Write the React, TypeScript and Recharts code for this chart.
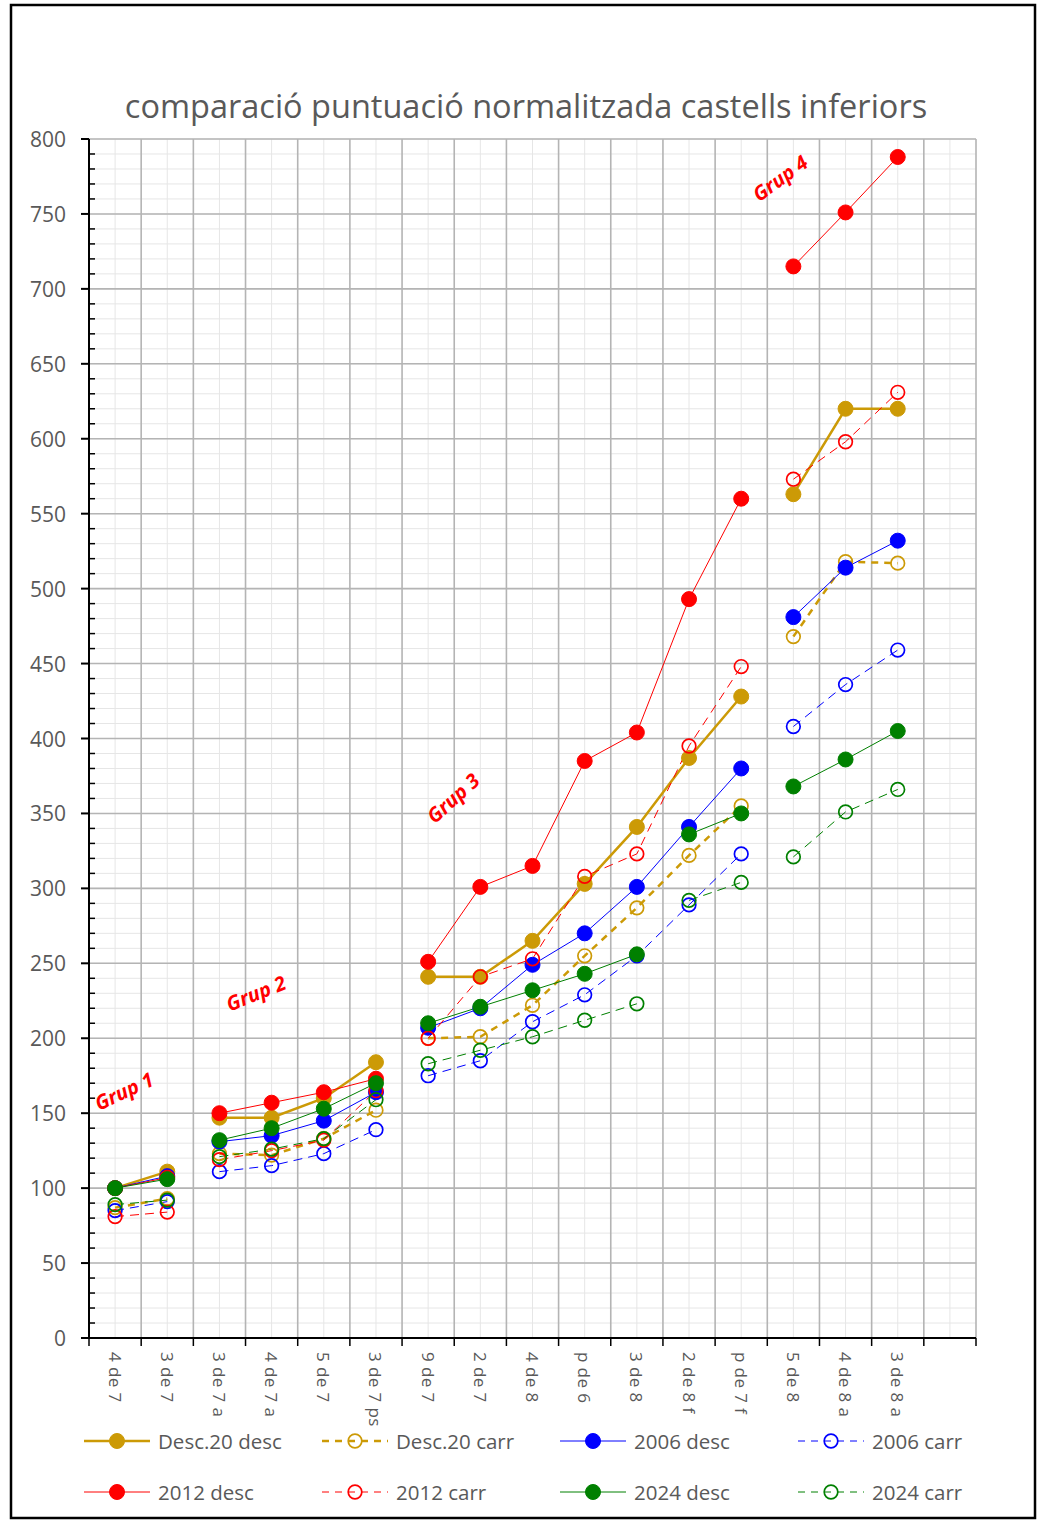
import React from 'react';
import { LineChart, Line, XAxis, YAxis, CartesianGrid } from 'recharts';

const categories = [
  '4 de 7', '3 de 7', '3 de 7 a', '4 de 7 a', '5 de 7', '3 de 7 ps', '9 de 7', '2 de 7',
  '4 de 8', 'p de 6', '3 de 8', '2 de 8 f', 'p de 7 f', '5 de 8', '4 de 8 a', '3 de 8 a', '',
];

const desc20Desc = [100, 111, 147, 147, 160, 184, 241, 241, 265, 303, 341, 387, 428, 563, 620, 620];
const desc20Carr = [87, 93, 123, 122, 133, 152, 200, 201, 222, 255, 287, 322, 355, 468, 518, 517];
const desc2006 = [100, 108, 131, 135, 145, 164, 207, 220, 249, 270, 301, 341, 380, 481, 514, 532];
const carr2006 = [85, 91, 111, 115, 123, 139, 175, 185, 211, 229, 255, 289, 323, 408, 436, 459];
const desc2012 = [100, 107, 150, 157, 164, 173, 251, 301, 315, 385, 404, 493, 560, 715, 751, 788];
const carr2012 = [81, 84, 119, 125, 132, 165, 200, 241, 253, 308, 323, 395, 448, 573, 598, 631];
const desc2024 = [100, 106, 132, 140, 153, 170, 210, 221, 232, 243, 256, 336, 350, 368, 386, 405];
const carr2024 = [89, 92, 121, 126, 133, 159, 183, 192, 201, 212, 223, 292, 304, 321, 351, 366];

const yLabels = [0, 50, 100, 150, 200, 250, 300, 350, 400, 450, 500, 550, 600, 650, 700, 750, 800];

// index ranges that are joined by a line
const groups = [[0, 1], [2, 5], [6, 12], [13, 15]];
const groups2024 = [[0, 1], [2, 5], [6, 10], [11, 12], [13, 15]];

const GOLD = '#CC9A06';
const BLUE = '#0000FF';
const RED = '#FF0000';
const GREEN = '#008000';
const GREY_TEXT = '#595959';
const FONT = '"Open Sans", "Noto Sans", sans-serif';

interface Series {
  key: string,
  name: string,
  values: number[],
  color: string,
  width: number,
  dashed: boolean,
  filled: boolean,
  segments: number[][],
}

const series: Series[] = [
  { key: 'd20d', name: 'Desc.20 desc', values: desc20Desc, color: GOLD, width: 2.5, dashed: false, filled: true, segments: groups },
  { key: 'd20c', name: 'Desc.20 carr', values: desc20Carr, color: GOLD, width: 2.5, dashed: true, filled: false, segments: groups },
  { key: 'd06', name: '2006 desc', values: desc2006, color: BLUE, width: 1, dashed: false, filled: true, segments: groups },
  { key: 'c06', name: '2006 carr', values: carr2006, color: BLUE, width: 1, dashed: true, filled: false, segments: groups },
  { key: 'd12', name: '2012 desc', values: desc2012, color: RED, width: 1, dashed: false, filled: true, segments: groups },
  { key: 'c12', name: '2012 carr', values: carr2012, color: RED, width: 1, dashed: true, filled: false, segments: groups },
  { key: 'd24', name: '2024 desc', values: desc2024, color: GREEN, width: 1, dashed: false, filled: true, segments: groups2024 },
  { key: 'c24', name: '2024 carr', values: carr2024, color: GREEN, width: 1, dashed: true, filled: false, segments: groups2024 },
];

const data = categories.map((cat, i) => {
  const row: any = { cat };
  series.forEach((s) => {
    s.segments.forEach(([a, b], g) => {
      row[`${s.key}_${g}`] = i >= a && i <= b ? s.values[i] : null;
    });
  });
  return row;
});

const W = 1038;
const H = 1524;
const PLOT_L = 89;
const PLOT_R = 976;
const PLOT_T = 139;
const PLOT_B = 1338;
const BAND = (PLOT_R - PLOT_L) / categories.length;

const minorY: number[] = [];
for (let v = 0; v <= 800; v += 10) minorY.push(v);

const yPix = (v: number, off: any) => {
  const top = off?.top ?? PLOT_T;
  const h = off?.height ?? PLOT_B - PLOT_T;
  return top + h * (1 - v / 800);
};

const majorVertical = ({ offset }: any) => {
  const left = offset?.left ?? PLOT_L;
  const w = offset?.width ?? PLOT_R - PLOT_L;
  return categories.map((_, i) => left + (w * (i + 1)) / categories.length);
};
const minorVertical = ({ offset }: any) => {
  const left = offset?.left ?? PLOT_L;
  const w = offset?.width ?? PLOT_R - PLOT_L;
  return categories.map((_, i) => left + (w * (i + 0.5)) / categories.length);
};
const majorHorizontal = ({ offset }: any) => yLabels.map((v) => yPix(v, offset));
const minorHorizontal = ({ offset }: any) => minorY.map((v) => yPix(v, offset));

const YTick = (props: any) => {
  const { y, payload } = props;
  const major = payload.value % 50 === 0;
  return (
    <g>
      {major
        ? <line x1={PLOT_L - 8} x2={PLOT_L} y1={y} y2={y} stroke="#000" strokeWidth={2} />
        : <line x1={PLOT_L} x2={PLOT_L + 6} y1={y} y2={y} stroke="#000" strokeWidth={1.5} />}
      {major && (
        <text x={66} y={y} textAnchor="end" dominantBaseline="central"
          fontFamily={FONT} fontSize={21} fill={GREY_TEXT}>{payload.value}</text>
      )}
    </g>
  );
};

const XTick = (props: any) => {
  const { x, payload, index } = props;
  return (
    <g>
      <line x1={x - BAND / 2} x2={x - BAND / 2} y1={PLOT_B} y2={PLOT_B + 8} stroke="#000" strokeWidth={1.5} />
      {index === categories.length - 1 && (
        <line x1={x + BAND / 2} x2={x + BAND / 2} y1={PLOT_B} y2={PLOT_B + 8} stroke="#000" strokeWidth={1.5} />
      )}
      <text x={x} y={PLOT_B + 14} transform={`rotate(90 ${x} ${PLOT_B + 14})`}
        textAnchor="start" dominantBaseline="central" fontFamily={FONT} fontSize={17}
        letterSpacing={0.4} fill={GREY_TEXT}>
        {payload.value}
      </text>
    </g>
  );
};

const dotFor = (s: Series) => s.filled
  ? { r: 7.5, fill: s.color, stroke: s.color, strokeWidth: 1, strokeDasharray: 'none' }
  : { r: 6.8, fill: 'none', stroke: s.color, strokeWidth: 1.7, strokeDasharray: 'none' };

const groupLabels = [
  { text: 'Grup 1', x: 124, y: 1091, angle: -25 },
  { text: 'Grup 2', x: 256, y: 993, angle: -22 },
  { text: 'Grup 3', x: 453, y: 798, angle: -42 },
  { text: 'Grup 4', x: 780, y: 178, angle: -36 },
];

const legendCols = [84, 322, 560, 798];
const legendRows = [1441, 1492];

function App() {
  return (
    <div style={{ position: 'absolute', left: 0, top: 0, width: W, height: H, background: '#fff' }}>
      <svg width={W} height={H} style={{ position: 'absolute', left: 0, top: 0 }}>
        <rect x={11} y={5} width={1024} height={1513} fill="#fff" stroke="#000" strokeWidth={2.5} />
        <text x={526} y={105} textAnchor="middle" dominantBaseline="central"
          fontFamily={FONT} fontSize={32.5} fill={GREY_TEXT}>
          comparació puntuació normalitzada castells inferiors
        </text>
      </svg>
      <div style={{ position: 'absolute', left: 0, top: 0 }}>
        <LineChart width={W} height={H} data={data}
          margin={{ top: PLOT_T, right: W - PLOT_R, bottom: H - PLOT_B - 80, left: PLOT_L - 60 }}>
          <CartesianGrid stroke="#e6e6e6" strokeWidth={1}
            verticalCoordinatesGenerator={minorVertical}
            horizontalCoordinatesGenerator={minorHorizontal} />
          <CartesianGrid stroke="#b4b4b4" strokeWidth={1.6}
            verticalCoordinatesGenerator={majorVertical}
            horizontalCoordinatesGenerator={majorHorizontal} />
          <XAxis dataKey="cat" scale="band" interval={0} height={80} tickLine={false} tick={<XTick />}
            axisLine={{ stroke: '#000', strokeWidth: 2 }} padding={{ left: 0, right: 0 }} />
          <YAxis type="number" domain={[0, 800]} ticks={minorY} interval={0} width={60}
            tickLine={false} tick={<YTick />} axisLine={{ stroke: '#000', strokeWidth: 2 }} />
          {series.map((s) => s.segments.map((_, g) => (
            <Line key={`${s.key}_${g}`} dataKey={`${s.key}_${g}`} type="linear"
              stroke={s.color} strokeWidth={s.width}
              strokeDasharray={s.dashed ? (s.width > 2 ? '7 6' : '9 6') : undefined}
              dot={dotFor(s)} activeDot={false} connectNulls={false}
              isAnimationActive={false} legendType="none" />
          )))}
        </LineChart>
      </div>
      <svg width={W} height={H} style={{ position: 'absolute', left: 0, top: 0, pointerEvents: 'none' }}>
        {groupLabels.map((l) => (
          <text key={l.text} x={l.x} y={l.y} transform={`rotate(${l.angle} ${l.x} ${l.y})`}
            textAnchor="middle" dominantBaseline="central" fontFamily={FONT}
            fontSize={20} fontWeight="bold" fontStyle="italic" fill={RED}>{l.text}</text>
        ))}
        {series.map((s, i) => {
          const x = legendCols[i % 4];
          const y = legendRows[Math.floor(i / 4)];
          const d = dotFor(s);
          return (
            <g key={s.key}>
              <line x1={x} x2={x + 66} y1={y} y2={y} stroke={s.color} strokeWidth={s.width}
                strokeDasharray={s.dashed ? '7 6' : undefined} />
              <circle cx={x + 33} cy={y} r={d.r} fill={d.fill} stroke={d.stroke} strokeWidth={d.strokeWidth} />
              <text x={x + 74} y={y} dominantBaseline="central" fontFamily={FONT}
                fontSize={20.5} fill={GREY_TEXT}>{s.name}</text>
            </g>
          );
        })}
      </svg>
    </div>
  );
}

export default App;
